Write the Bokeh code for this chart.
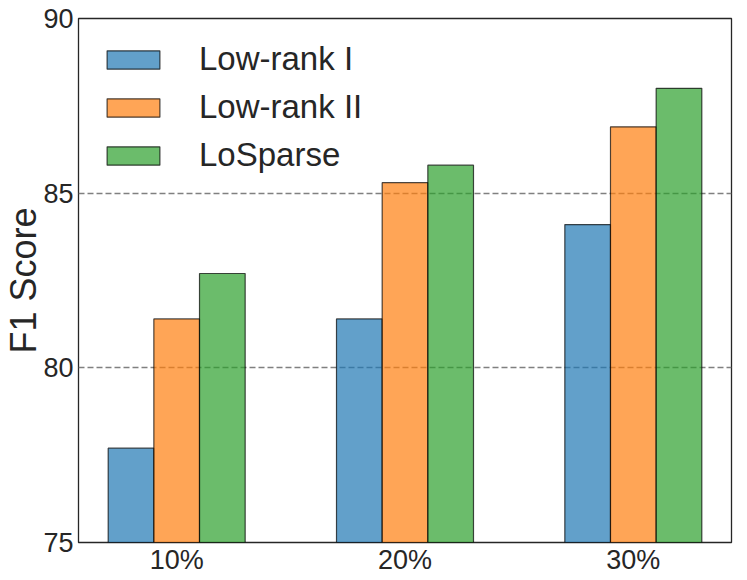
from bokeh.plotting import figure
from bokeh.models import ColumnDataSource, Range1d, FixedTicker, Legend, LegendItem
from bokeh.transform import dodge
from bokeh.embed import file_html
from bokeh.resources import INLINE

categories = ["10%", "20%", "30%"]
low_rank_1 = [77.7, 81.4, 84.1]
low_rank_2 = [81.4, 85.3, 86.9]
losparse = [82.7, 85.8, 88.0]
series_names = ["Low-rank I", "Low-rank II", "LoSparse"]
series_colors = ["#1f77b4", "#ff7f0e", "#2ca02c"]
y_ticks = [75, 80, 85, 90]

FONT = "Liberation Sans"
TXT = "#262626"

xs = list(range(len(categories)))
src = ColumnDataSource(dict(x=xs, s0=low_rank_1, s1=low_rank_2, s2=losparse))

p = figure(width=735, height=577, output_backend="svg", toolbar_location=None,
           x_range=Range1d(-0.43, 2.43), y_range=Range1d(75, 90),
           min_border_left=75, min_border_top=18, min_border_right=4, min_border_bottom=33)

p.background_fill_color = "white"
p.border_fill_color = "white"
p.outline_line_color = TXT
p.outline_line_width = 1.3

bw = 0.2
renderers = []
for k, (col, name, colr) in enumerate(zip(["s0", "s1", "s2"], series_names, series_colors)):
    r = p.vbar(x=dodge("x", (k - 1) * bw, range=p.x_range), top=col, bottom=75, width=bw,
               source=src, fill_color=colr, fill_alpha=0.7,
               line_color="black", line_alpha=0.7, line_width=1.2)
    renderers.append((name, r))

# grid
p.xgrid.grid_line_color = None
p.ygrid.ticker = FixedTicker(ticks=[80, 85])
p.ygrid.grid_line_color = "#808080"
p.ygrid.grid_line_dash = "6 3"
p.ygrid.grid_line_width = 1.4

# axes
p.yaxis.ticker = FixedTicker(ticks=y_ticks)
p.xaxis.ticker = FixedTicker(ticks=xs)
p.xaxis.major_label_overrides = {i: c for i, c in enumerate(categories)}
for ax in (p.xaxis[0], p.yaxis[0]):
    ax.axis_line_color = None
    ax.major_tick_line_color = None
    ax.minor_tick_line_color = None
    ax.major_tick_out = 0
    ax.major_tick_in = 0
    ax.major_label_text_font = FONT
    ax.major_label_text_font_size = "27px"
    ax.major_label_text_color = TXT
p.yaxis.major_label_standoff = 5
p.xaxis.major_label_standoff = 2
p.yaxis.axis_label = "F1 Score"
p.yaxis.axis_label_text_font = FONT
p.yaxis.axis_label_text_font_size = "36px"
p.yaxis.axis_label_text_font_style = "normal"
p.yaxis.axis_label_text_color = TXT
p.yaxis.axis_label_standoff = -4

legend = Legend(items=[LegendItem(label=n, renderers=[r]) for n, r in renderers],
                location="top_left")
legend.border_line_color = None
legend.background_fill_alpha = 0
legend.margin = 22
legend.glyph_width = 66
legend.glyph_height = 23
legend.label_standoff = 33
legend.spacing = 10
legend.label_text_font = FONT
legend.label_text_font_size = "33px"
legend.label_text_color = TXT
p.add_layout(legend)

open("out.html", "w").write(file_html(p, INLINE))
